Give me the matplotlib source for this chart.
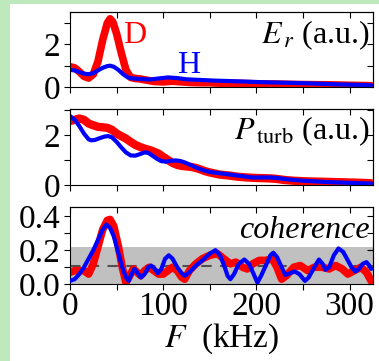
import matplotlib
matplotlib.use("Agg")
import matplotlib.pyplot as plt
from matplotlib.ticker import MultipleLocator, NullFormatter, FormatStrFormatter
from matplotlib.patches import Rectangle

plt.rcParams['font.family'] = ['Liberation Serif', 'DejaVu Serif']
plt.rcParams['mathtext.fontset'] = 'stix'

# ---------------- data ----------------
# Panel 1: E_r (a.u.)
F_er_D = [0, 5, 10, 15, 20, 25, 30, 35, 40, 43, 46, 50, 55, 60, 65, 70, 75, 80, 90, 100,
          110, 120, 130, 140, 150, 160, 180, 200, 220, 240, 260, 280, 300, 323]
er_D = [0.95, 0.9, 0.72, 0.5, 0.42, 0.6, 1.2, 2.2, 3.0, 3.2, 3.05, 2.5, 1.6, 0.8, 0.45, 0.4,
        0.38, 0.34, 0.26, 0.24, 0.27, 0.24, 0.21, 0.2, 0.2, 0.18, 0.17, 0.15, 0.14, 0.12,
        0.11, 0.1, 0.08, 0.06]
F_er_H = [0, 5, 10, 15, 20, 25, 30, 35, 40, 43, 47, 52, 57, 62, 67, 75, 85, 95, 105, 115,
          125, 140, 155, 170, 190, 210, 230, 250, 270, 290, 310, 323]
er_H = [0.8, 0.78, 0.7, 0.63, 0.6, 0.65, 0.78, 0.9, 0.98, 1.0, 0.95, 0.8, 0.6, 0.45, 0.4,
        0.38, 0.35, 0.4, 0.45, 0.42, 0.36, 0.33, 0.3, 0.28, 0.25, 0.22, 0.2, 0.18, 0.15,
        0.12, 0.1, 0.08]

# Panel 2: P_turb (a.u.)
F_p_D = [0, 5, 10, 15, 20, 25, 30, 35, 40, 45, 50, 55, 60, 65, 70, 75, 80, 85, 90, 95, 100,
         105, 110, 115, 120, 125, 130, 135, 140, 145, 150, 160, 170, 180, 190, 200, 210, 220,
         230, 240, 250, 260, 270, 280, 290, 300, 310, 323]
p_D = [2.55, 2.6, 2.65, 2.6, 2.45, 2.38, 2.32, 2.3, 2.28, 2.2, 2.05, 1.95, 1.85, 1.72, 1.6,
       1.52, 1.45, 1.4, 1.33, 1.25, 1.12, 1.0, 0.88, 0.8, 0.76, 0.74, 0.72, 0.68, 0.62, 0.55,
       0.5, 0.42, 0.38, 0.33, 0.3, 0.28, 0.27, 0.25, 0.2, 0.17, 0.15, 0.14, 0.13, 0.12, 0.11,
       0.1, 0.09, 0.07]
F_p_H = [0, 5, 10, 15, 20, 23, 27, 32, 37, 41, 45, 50, 55, 60, 65, 70, 75, 80, 84, 88, 93,
         98, 103, 108, 113, 118, 123, 128, 135, 142, 150, 158, 165, 175, 185, 195, 205, 215,
         222, 230, 240, 250, 260, 275, 290, 305, 323]
p_H = [2.75, 2.6, 2.35, 2.05, 1.82, 1.78, 1.8, 1.87, 1.93, 1.95, 1.9, 1.72, 1.5, 1.3, 1.18,
       1.17, 1.23, 1.3, 1.28, 1.18, 1.05, 0.95, 0.93, 0.96, 0.98, 0.96, 0.9, 0.82, 0.7, 0.6,
       0.52, 0.48, 0.45, 0.4, 0.35, 0.3, 0.3, 0.3, 0.28, 0.24, 0.2, 0.17, 0.15, 0.12, 0.1,
       0.08, 0.06]

# Panel 3: coherence
F_c_D = [0, 5, 10, 15, 20, 25, 30, 35, 40, 43, 47, 52, 56, 60, 64, 68, 72, 76, 80, 85, 90,
         95, 100, 105, 110, 115, 120, 123, 128, 135, 142, 150, 158, 165, 172, 178, 185, 190,
         196, 203, 210, 217, 222, 227, 232, 240, 247, 255, 262, 270, 278, 285, 292, 298, 305,
         312, 318, 323]
coh_D = [0.07, 0.08, 0.08, 0.08, 0.06, 0.12, 0.22, 0.32, 0.375, 0.38, 0.34, 0.22, 0.1, 0.01,
         0.05, 0.09, 0.07, 0.05, 0.08, 0.1, 0.08, 0.06, 0.06, 0.08, 0.1, 0.08, 0.04, 0.03,
         0.08, 0.12, 0.15, 0.17, 0.18, 0.15, 0.12, 0.13, 0.1, 0.09, 0.12, 0.14, 0.14, 0.15,
         0.1, 0.03, 0.05, 0.1, 0.11, 0.08, 0.1, 0.1, 0.09, 0.11, 0.09, 0.06, 0.08, 0.1, 0.07,
         0.02]
F_c_H = [0, 5, 10, 15, 20, 25, 30, 35, 39, 43, 47, 52, 56, 60, 63, 66, 69, 72, 76, 80, 84,
         87, 91, 94, 98, 102, 106, 110, 115, 119, 123, 128, 135, 142, 150, 156, 161, 166, 169,
         172, 176, 181, 187, 192, 197, 201, 205, 210, 215, 218, 222, 227, 231, 236, 241, 246,
         252, 256, 261, 267, 271, 274, 278, 283, 288, 293, 298, 302, 306, 310, 314, 318, 321,
         323]
coh_H = [0.02, 0.03, 0.06, 0.1, 0.15, 0.2, 0.26, 0.32, 0.35, 0.33, 0.28, 0.18, 0.1, 0.04,
         0.02, 0.06, 0.09, 0.07, 0.04, 0.06, 0.1, 0.11, 0.09, 0.065, 0.09, 0.15, 0.17, 0.15,
         0.1, 0.07, 0.05, 0.07, 0.11, 0.14, 0.18, 0.2, 0.17, 0.1, 0.05, 0.03, 0.06, 0.12,
         0.145, 0.12, 0.06, 0.01, 0.05, 0.11, 0.17, 0.185, 0.16, 0.1, 0.055, 0.065, 0.075,
         0.06, 0.02, 0.04, 0.09, 0.145, 0.12, 0.085, 0.1, 0.17, 0.21, 0.19, 0.14, 0.1, 0.075,
         0.09, 0.12, 0.13, 0.11, 0.09]

sig_level = 0.22
mean_level = 0.11
xlim = (0, 325)

# ---------------- figure ----------------
W, H = 379, 361
fig = plt.figure(figsize=(W / 100, H / 100), dpi=100, facecolor='#bde9bd')
bg = Rectangle((10 / W, 0), 1 - 10 / W, 1 - 4 / H, transform=fig.transFigure,
               facecolor='white', edgecolor='none', zorder=-10)
fig.patches.append(bg)

left = 70 / W
width = (373 - 70) / W
boxes = [(12, 87), (109, 185), (207, 284.3)]
axes = []
for top, bot in boxes:
    ax = fig.add_axes([left, 1 - bot / H, width, (bot - top) / H])
    ax.set_facecolor('white')
    axes.append(ax)

RED = '#ff0000'
BLUE = '#0000ff'
TICK = 24
LAB = 23

def style(ax, ymajor, yminor, ylim, fmt=None):
    ax.set_xlim(*xlim)
    ax.set_ylim(*ylim)
    ax.xaxis.set_major_locator(MultipleLocator(100))
    ax.xaxis.set_minor_locator(MultipleLocator(50))
    ax.yaxis.set_major_locator(MultipleLocator(ymajor))
    ax.yaxis.set_minor_locator(MultipleLocator(yminor))
    ax.tick_params(which='both', direction='out', width=0.8, length=4, labelsize=TICK)
    ax.tick_params(axis='y', pad=3)
    ax.tick_params(axis='x', pad=1)
    if fmt:
        ax.yaxis.set_major_formatter(fmt)
    for s in ax.spines.values():
        s.set_linewidth(0.8)
    sx = ax.secondary_xaxis('top')
    sx.xaxis.set_major_locator(MultipleLocator(100))
    sx.xaxis.set_minor_locator(MultipleLocator(50))
    sx.tick_params(which='both', direction='in', length=4, width=0.8, labeltop=False)
    sx.xaxis.set_major_formatter(NullFormatter())
    sy = ax.secondary_yaxis('right')
    sy.yaxis.set_major_locator(MultipleLocator(ymajor))
    sy.yaxis.set_minor_locator(MultipleLocator(yminor))
    sy.tick_params(which='both', direction='in', length=4, width=0.8, labelright=False)
    sy.yaxis.set_major_formatter(NullFormatter())

ax1, ax2, ax3 = axes
kw = dict(solid_joinstyle='round', solid_capstyle='round')

# Panel 1
ax1.plot(F_er_D, er_D, color=RED, lw=5.5, **kw)
ax1.plot(F_er_H, er_H, color=BLUE, lw=3, **kw)
style(ax1, 2, 1, (0, 3.52))
ax1.tick_params(axis='x', labelbottom=False)
ax1.text(0.99, 0.58, r'$E_{\,r}$ (a.u.)', transform=ax1.transAxes, ha='right', va='baseline',
         fontsize=LAB)
ax1.text(57, 2.05, 'D', color=RED, fontsize=LAB, ha='left', va='baseline')
ax1.text(115, 0.65, 'H', color=BLUE, fontsize=LAB, ha='left', va='baseline')

# Panel 2
ax2.plot(F_p_D, p_D, color=RED, lw=6, **kw)
ax2.plot(F_p_H, p_H, color=BLUE, lw=3, **kw)
style(ax2, 2, 1, (0, 3.03))
ax2.tick_params(axis='x', labelbottom=False)
ax2.text(0.99, 0.6, r'$P_{\,\mathrm{turb}}$ (a.u.)', transform=ax2.transAxes, ha='right',
         va='baseline', fontsize=LAB)

# Panel 3
ax3.axhspan(0, sig_level, color='#c0c0c0', lw=0, zorder=0)
ax3.axhline(mean_level, color='#505050', lw=1.5, ls=(0, (5, 4)), zorder=1)
ax3.plot(F_c_D, coh_D, color=RED, lw=5.5, zorder=2, **kw)
ax3.plot(F_c_H, coh_H, color=BLUE, lw=3, zorder=3, **kw)
style(ax3, 0.2, 0.1, (0, 0.453), fmt=FormatStrFormatter('%.1f'))
ax3.text(0.99, 0.6, 'coherence', transform=ax3.transAxes, ha='right', va='baseline',
         fontsize=LAB, style='italic')
ax3.set_xlabel(r'$F$  (kHz)', fontsize=LAB + 1, labelpad=0)

fig.savefig('out.png', dpi=100, facecolor=fig.get_facecolor())
